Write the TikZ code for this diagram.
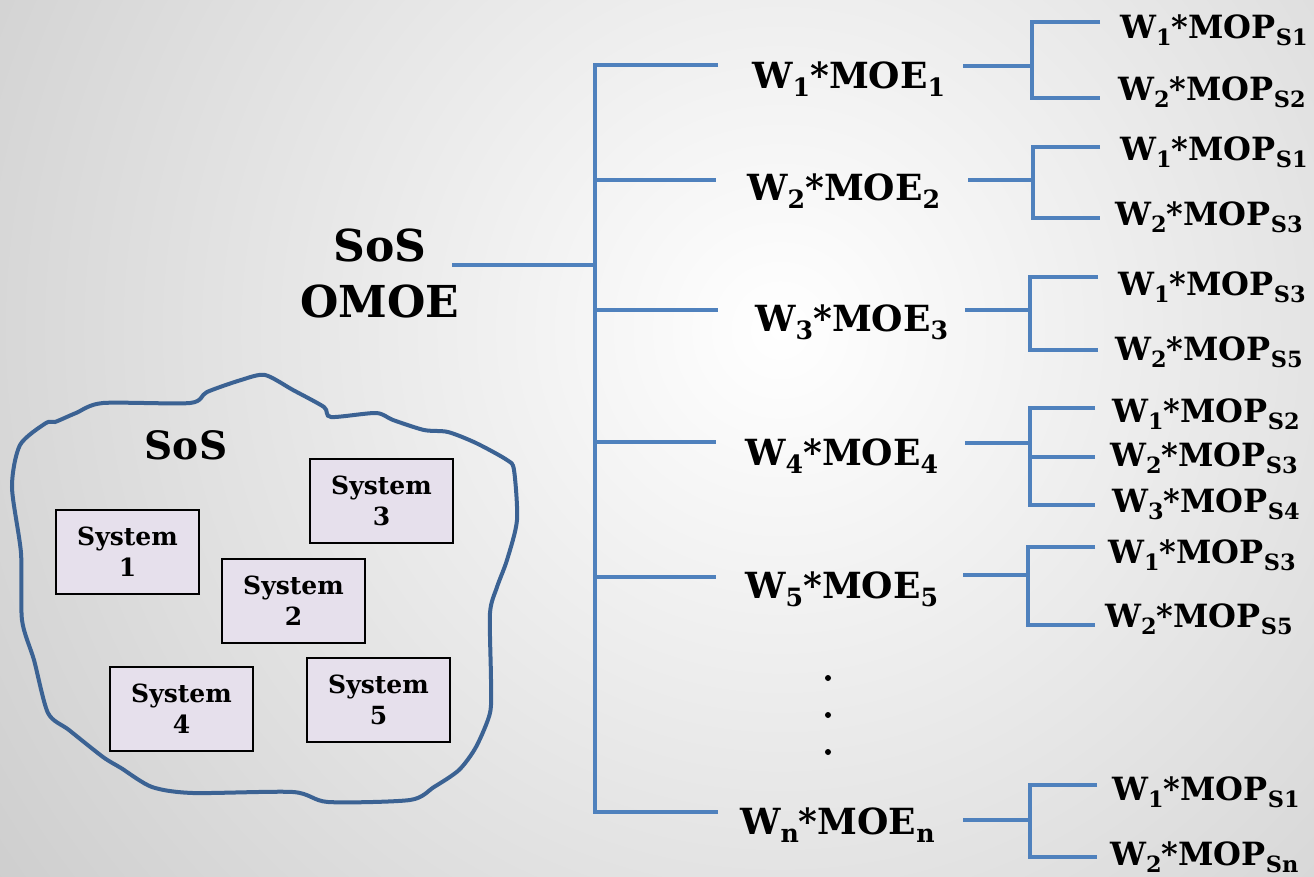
\documentclass[tikz,border=0pt]{standalone}
\usepackage{fontspec}
\usepackage{graphicx}
\setmainfont{DejaVu Serif}
\definecolor{linkblue}{HTML}{4F81BD}
\definecolor{blobblue}{HTML}{3B6293}
\definecolor{boxfill}{HTML}{E6E0EC}
\newcommand\lowsub[1]{\raisebox{-0.24em}{\scalebox{0.7}{#1}}}
\tikzset{
  conn/.style={draw=linkblue, line width=4pt, line join=miter},
  moe/.style={font=\fontsize{36}{42}\selectfont\bfseries, inner sep=0pt, anchor=base west},
  mop/.style={font=\fontsize{32}{36}\selectfont\bfseries, inner sep=0pt, anchor=base west},
  sysbox/.style={draw=black, line width=1.5pt, fill=boxfill, minimum width=143pt, minimum height=84pt,
     align=center, inner sep=0pt, font=\fontsize{25}{31}\selectfont\bfseries},
  dotnode/.style={circle, fill=black, inner sep=0pt, minimum size=6pt},
}
\begin{document}
\begin{tikzpicture}[x=1pt,y=-1pt]
\useasboundingbox (0,0) rectangle (1314,876);
\begin{scope}
\clip (0,0) rectangle (1314,876);
\shade[inner color=white, outer color=black!40] (-1220,-1670) rectangle (2780,2330);
\end{scope}

% SoS cloud
\draw[blobblue, line width=4pt] plot[smooth cycle, tension=0.45] coordinates {
(265,375) (293,390) (324,407) (331,417) (376,413) (393,420) (424,430) (448,432) (476,443) (507,460) (514,470) (517,520) (507,560) (497,587) (490,613) (491,680) (490,713) (476,747) (459,770) (434,787) (410,800) (328,802) (293,792) (193,793) (152,787) (121,768) (103,757) (69,730) (48,713) (34,660) (22,620) (21,553) (12,487) (20,445) (46,423) (55,422) (76,413) (103,403) (190,403) (207,392) (241,380)};
\node[font=\fontsize{39}{44}\selectfont\bfseries, inner sep=0pt] (sos) at (186,445) {SoS};
\node[sysbox] (s1) at (127.5,552) {System\\1};
\node[sysbox] (s3) at (381.5,501) {System\\3};
\node[sysbox] (s2) at (293.5,601) {System\\2};
\node[sysbox] (s4) at (181.5,709) {System\\4};
\node[sysbox] (s5) at (378.5,700) {System\\5};

% root
\node[font=\fontsize{44}{56}\selectfont\bfseries, inner sep=0pt, align=center] (omoe) at (380,273) {SoS\\OMOE};
\coordinate (omoeR) at (452,265);
\coordinate (trunkM) at (595,265);
\draw[conn] (omoeR) -- (trunkM);

% trunk and arms
\coordinate (t1) at (595,65);  \coordinate (a1) at (718,65);
\coordinate (t2) at (595,180); \coordinate (a2) at (716,180);
\coordinate (t3) at (595,310); \coordinate (a3) at (718,310);
\coordinate (t4) at (595,442); \coordinate (a4) at (716,442);
\coordinate (t5) at (595,577); \coordinate (a5) at (716,577);
\coordinate (tn) at (595,812); \coordinate (an) at (718,812);
\draw[conn] (a1) -- (t1) -- (tn) -- (an);
\draw[conn] (t2) -- (a2);
\draw[conn] (t3) -- (a3);
\draw[conn] (t4) -- (a4);
\draw[conn] (t5) -- (a5);

% MOE labels
\node[moe] (m1) at (752,88)  {W\lowsub{1}*MOE\lowsub{1}};
\node[moe] (m2) at (747,200) {W\lowsub{2}*MOE\lowsub{2}};
\node[moe] (m3) at (755,331) {W\lowsub{3}*MOE\lowsub{3}};
\node[moe] (m4) at (745,465) {W\lowsub{4}*MOE\lowsub{4}};
\node[moe] (m5) at (745,598) {W\lowsub{5}*MOE\lowsub{5}};
\node[moe] (mn) at (740,834) {W\lowsub{n}*MOE\lowsub{n}};

\node[dotnode] (d1) at (828,678) {};
\node[dotnode] (d2) at (828,715) {};
\node[dotnode] (d3) at (828,752) {};

% brackets
\draw[conn] (963,66) -- (1032,66);
\draw[conn] (1100,22) -- (1032,22) -- (1032,98) -- (1100,98);
\draw[conn] (968,180) -- (1033,180);
\draw[conn] (1100,147) -- (1033,147) -- (1033,218) -- (1100,218);
\draw[conn] (965,310) -- (1030,310);
\draw[conn] (1098,277) -- (1030,277) -- (1030,350) -- (1098,350);
\draw[conn] (965,443) -- (1030,443);
\draw[conn] (1095,408) -- (1030,408) -- (1030,505) -- (1095,505);
\draw[conn] (1030,457) -- (1095,457);
\draw[conn] (963,575) -- (1028,575);
\draw[conn] (1095,547) -- (1028,547) -- (1028,625) -- (1095,625);
\draw[conn] (963,820) -- (1030,820);
\draw[conn] (1097,785) -- (1030,785) -- (1030,857) -- (1097,857);

% MOP labels
\node[mop] (p11) at (1120,38)  {W\lowsub{1}*MOP\lowsub{S1}};
\node[mop] (p12) at (1118,100) {W\lowsub{2}*MOP\lowsub{S2}};
\node[mop] (p21) at (1120,160) {W\lowsub{1}*MOP\lowsub{S1}};
\node[mop] (p22) at (1115,225) {W\lowsub{2}*MOP\lowsub{S3}};
\node[mop] (p31) at (1118,295) {W\lowsub{1}*MOP\lowsub{S3}};
\node[mop] (p32) at (1115,360) {W\lowsub{2}*MOP\lowsub{S5}};
\node[mop] (p41) at (1112,422) {W\lowsub{1}*MOP\lowsub{S2}};
\node[mop] (p42) at (1110,466) {W\lowsub{2}*MOP\lowsub{S3}};
\node[mop] (p43) at (1112,512) {W\lowsub{3}*MOP\lowsub{S4}};
\node[mop] (p51) at (1108,563) {W\lowsub{1}*MOP\lowsub{S3}};
\node[mop] (p52) at (1105,627) {W\lowsub{2}*MOP\lowsub{S5}};
\node[mop] (pn1) at (1112,800) {W\lowsub{1}*MOP\lowsub{S1}};
\node[mop] (pn2) at (1110,865) {W\lowsub{2}*MOP\lowsub{Sn}};
\end{tikzpicture}
\end{document}
